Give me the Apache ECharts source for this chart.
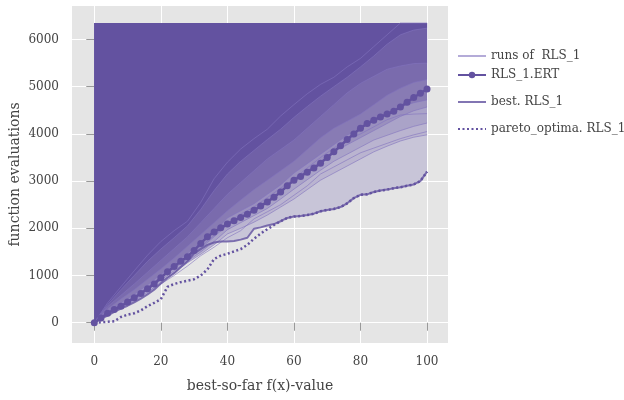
<!DOCTYPE html>
<html>
<head>
<meta charset="utf-8">
<script src="https://cdn.jsdelivr.net/npm/echarts@6/dist/echarts.min.js"></script>
<style>html,body{margin:0;padding:0;background:#fff}#c{width:624px;height:400px}</style>
</head>
<body>
<div id="c"></div>
<script>
// ---- data ----
const xFine = [0,2,4,6,8,10,12,14,16,18,20,22,24,26,28,30,32,34,36,38,40,42,44,46,48,50,52,54,56,58,60,62,64,66,68,70,72,74,76,78,80,82,84,86,88,90,92,94,96,98,100];
const xRuns = [0,4,8,12,16,20,24,28,32,36,40,44,48,52,56,60,64,68,72,76,80,84,88,92,96,100];
const ert = [0,100,200,280,350,440,530,620,720,820,950,
  1080,1190,1300,1400,1530,1680,1820,1920,2010,2090,
  2160,2230,2300,2380,2470,2560,2660,2770,2900,3020,
  3100,3190,3280,3380,3500,3620,3750,3880,4000,4120,
  4220,4290,4360,4420,4480,4570,4670,4770,4860,4950];
const pareto = [0,10,20,30,120,170,200,260,350,420,500,
  760,820,860,890,920,1000,1130,1350,1420,1460,
  1510,1560,1650,1780,1890,1980,2070,2150,2220,2250,
  2260,2280,2310,2360,2390,2410,2450,2530,2640,2710,
  2720,2770,2800,2820,2850,2870,2900,2930,3000,3200];
const best = [0,80,150,230,300,360,430,510,600,700,830,
  950,1050,1180,1300,1470,1560,1650,1700,1720,1720,
  1730,1760,1800,1990,2020,2060,2090,2150,2220,2250,
  2260,2280,2310,2360,2390,2410,2450,2530,2640,2710,
  2720,2770,2800,2820,2850,2870,2900,2930,3000,3200];
const run1 = [0,170,310,460,640,860,1060,1270,1450,1650,1880,2000,2130,2280,2450,2620,2820,3020,3170,3320,3470,3620,3740,3850,3930,3980];
const run2 = [0,190,340,500,690,900,1100,1300,1500,1720,1970,2120,2270,2420,2620,2830,3030,3230,3420,3570,3720,3870,3970,4070,4160,4230];
const run3 = [0,220,360,540,740,950,1150,1350,1580,1820,2070,2230,2370,2570,2770,3020,3220,3420,3620,3770,3920,4070,4220,4370,4490,4570];
const run4 = [0,250,420,600,800,1020,1240,1470,1700,1920,2220,2370,2520,2720,2920,3170,3370,3570,3770,3970,4120,4270,4420,4570,4660,4720];
const run5 = [0,290,500,700,920,1140,1370,1620,1870,2120,2370,2600,2820,3020,3220,3420,3670,3920,4120,4270,4420,4620,4820,4970,5090,5150];
const run6 = [0,340,580,820,1070,1320,1570,1820,2120,2420,2720,2970,3220,3470,3670,3870,4120,4370,4620,4870,5070,5220,5370,5440,5490,5500];
const run7 = [0,380,700,1000,1300,1560,1800,2050,2400,2800,3150,3420,3650,3880,4100,4350,4580,4800,5000,5200,5420,5650,5900,6100,6200,6240];
const run8 = [0,420,760,1100,1430,1720,1950,2150,2550,3050,3400,3680,3900,4100,4380,4620,4850,5050,5200,5420,5600,5850,6100,6350,6350,6350];
const run9 = [0,160,330,480,660,820,1000,1200,1420,1600,1800,1950,2200,2350,2500,2700,2900,3150,3300,3450,3600,3700,3800,3900,3980,4050];
const run10 = [0,230,390,560,760,980,1200,1420,1620,1850,2100,2300,2450,2650,2850,3050,3280,3500,3700,3880,4000,4150,4300,4400,4420,4430];
const budget = 6350;
const xTicks = [0,20,40,60,80,100];
const yTicks = [0,1000,2000,3000,4000,5000,6000];

// ---- build ----
const pairs = (xs, ys) => xs.map((x, i) => [x, ys[i]]);
const runs = [run1, run2, run3, run4, run5, run6, run7, run8, run9, run10];
const bandEdges = [pairs(xFine, best), pairs(xRuns, run1), pairs(xRuns, run2), pairs(xRuns, run3),
  pairs(xRuns, run4), pairs(xRuns, run5), pairs(xRuns, run6), pairs(xRuns, run7)];
const bandColors = ['rgb(200,197,216)','rgb(186,180,208)','rgb(170,163,200)','rgb(154,144,190)',
  'rgb(136,123,180)','rgb(122,107,173)','rgb(112,96,167)','rgb(99,82,160)'];
const PURPLE = 'rgb(99,82,160)';
const RUNCOL = 'rgba(130,115,190,0.6)';
const FONT = 'DejaVu Serif';

const series = [];
bandEdges.forEach((d, k) => {
  series.push({
    type: 'line', name: '_band' + k, data: d, symbol: 'none', silent: true,
    lineStyle: { width: 0, opacity: 0 },
    areaStyle: { origin: budget, color: bandColors[k], opacity: 1 },
    z: 1
  });
});
runs.forEach(r => {
  series.push({
    type: 'line', name: 'runs of  RLS_1', data: pairs(xRuns, r), symbol: 'none', silent: true,
    lineStyle: { width: 1, color: RUNCOL }, itemStyle: { color: RUNCOL }, z: 2
  });
});
series.push({
  type: 'line', name: 'best. RLS_1', data: pairs(xFine, best), symbol: 'none',
  lineStyle: { width: 2, color: 'rgba(99,82,160,0.8)' }, itemStyle: { color: 'rgba(99,82,160,0.8)' }, z: 3
});
series.push({
  type: 'line', name: 'pareto_optima. RLS_1', data: pairs(xFine, pareto), symbol: 'none',
  lineStyle: { width: 2.5, color: PURPLE, type: [2, 2.5] }, itemStyle: { color: PURPLE }, z: 4
});
series.push({
  type: 'line', name: 'RLS_1.ERT', data: pairs(xFine, ert), symbol: 'circle', symbolSize: 7,
  lineStyle: { width: 2.5, color: PURPLE }, itemStyle: { color: PURPLE }, z: 5
});

const legendBase = (name, center, showSymbol) => ({
  data: [showSymbol ? name : { name: name, itemStyle: { opacity: 0 } }],
  left: 457, top: center - 4, orient: 'vertical', padding: 0,
  itemWidth: 28, itemHeight: 8, itemGap: 0, selectedMode: false,
  textStyle: { fontFamily: FONT, fontSize: 12, color: '#444' }
});

const chart = echarts.init(document.getElementById('c'), null, { renderer: 'canvas' });
chart.setOption({
  animation: false,
  backgroundColor: '#fff',
  grid: { left: 72, right: 176, top: 6, bottom: 57, show: true, backgroundColor: '#e5e5e5', borderWidth: 0,
    containLabel: false, outerBoundsMode: 'none' },
  legend: [legendBase('runs of  RLS_1', 54, false), legendBase('RLS_1.ERT', 73, true),
    legendBase('best. RLS_1', 100, false), legendBase('pareto_optima. RLS_1', 127, false)],
  xAxis: {
    type: 'value', min: -6.7, max: 106.3,
    name: 'best-so-far f(x)-value', nameLocation: 'middle', nameGap: 36, nameMoveOverlap: false,
    nameTextStyle: { fontFamily: FONT, fontSize: 14, color: '#444' },
    axisLine: { show: false },
    axisTick: { show: true, length: 8, customValues: xTicks, lineStyle: { color: '#999' } },
    axisLabel: { customValues: xTicks, margin: 13, fontFamily: FONT, fontSize: 12, color: '#444',
      formatter: v => String(v) },
    splitLine: { show: true, lineStyle: { color: '#fff', width: 1 } }
  },
  yAxis: {
    type: 'value', min: -430, max: 6710,
    name: 'function evaluations', nameLocation: 'middle', nameGap: 50, nameMoveOverlap: false,
    nameTextStyle: { fontFamily: FONT, fontSize: 14, color: '#444' },
    axisLine: { show: false },
    axisTick: { show: true, length: 8, customValues: yTicks, lineStyle: { color: '#999' } },
    axisLabel: { customValues: yTicks, margin: 13, fontFamily: FONT, fontSize: 12, color: '#444',
      formatter: v => String(v) },
    splitLine: { show: true, lineStyle: { color: '#fff', width: 1 } }
  },
  series: series
});
</script>
</body>
</html>
